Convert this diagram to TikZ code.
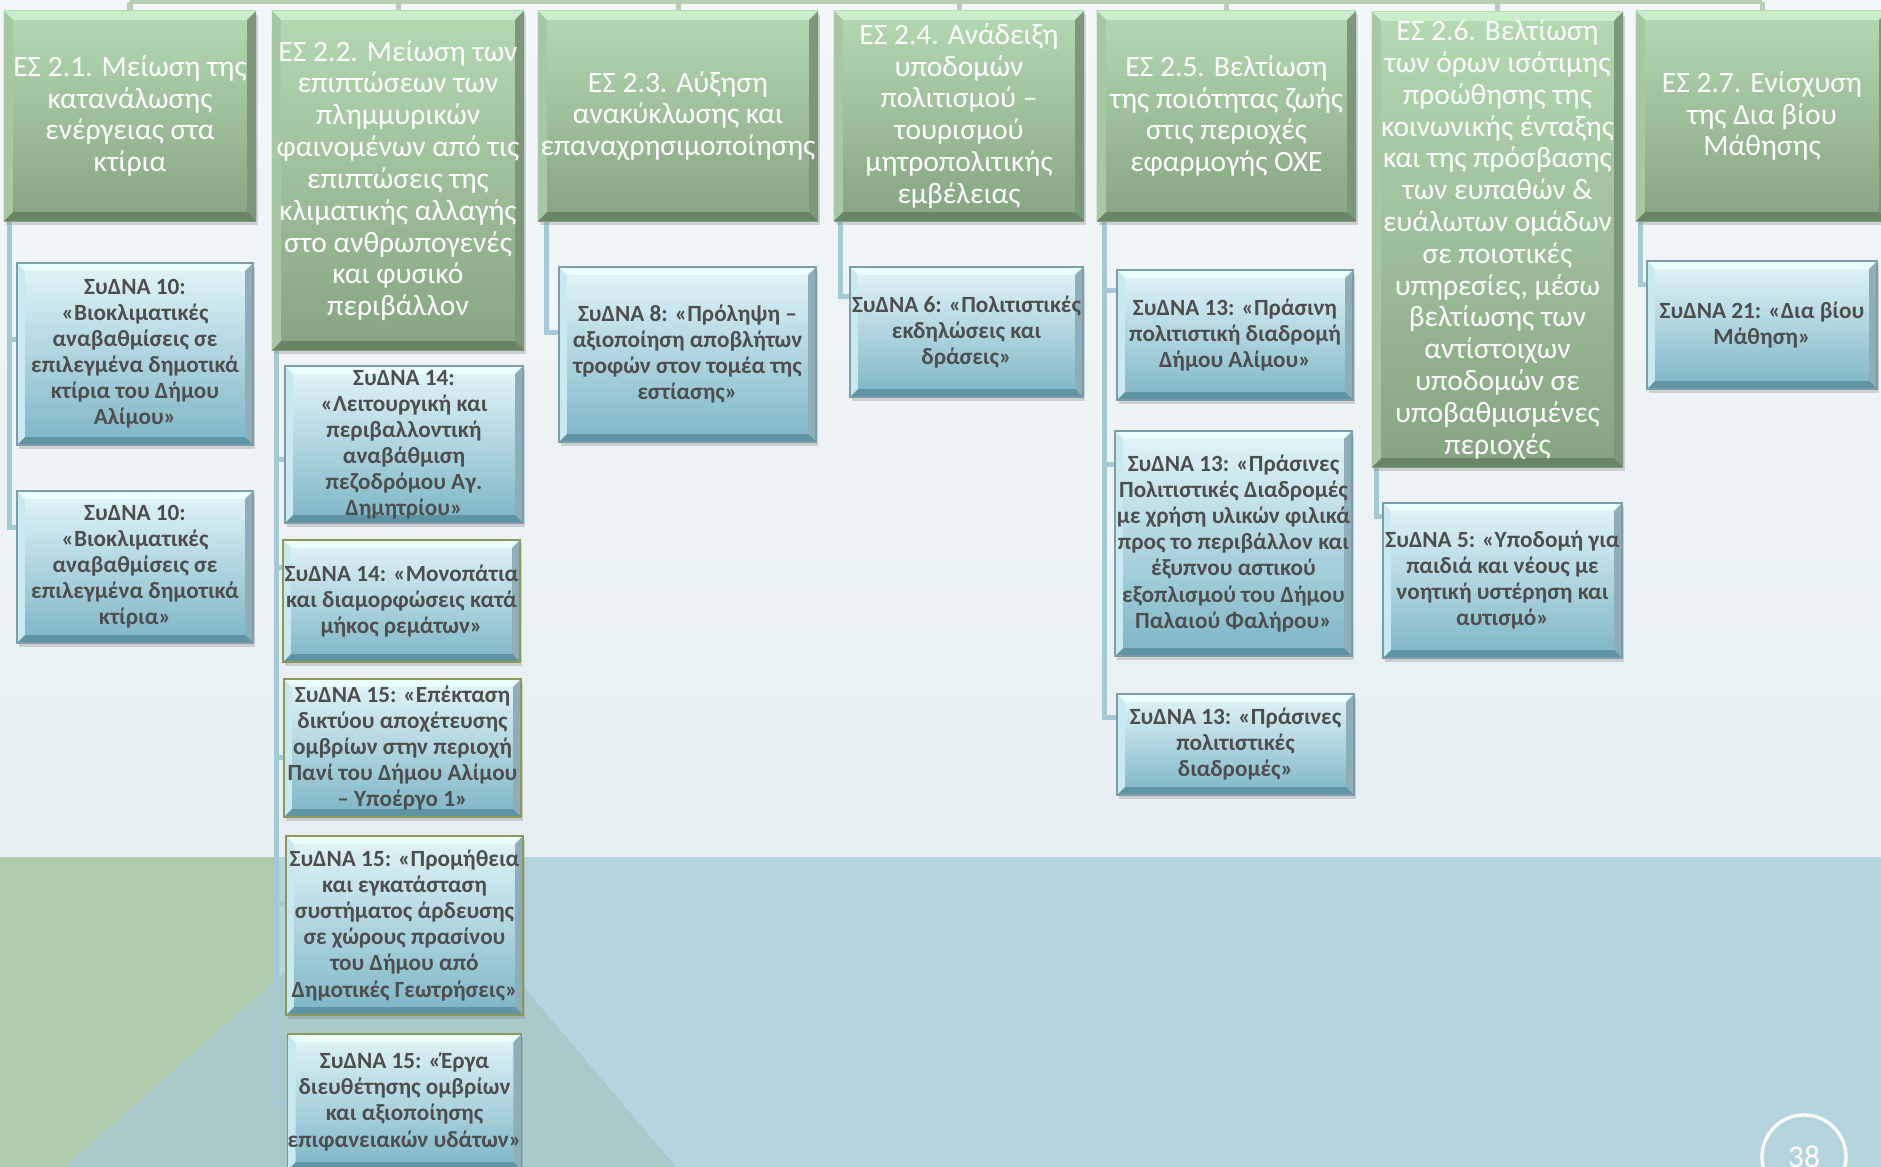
\documentclass[tikz,border=0pt]{standalone}
\usepackage{fontspec}
\setmainfont{Carlito}
\usetikzlibrary{shadows}

\pgfdeclarelayer{bg}
\pgfdeclarelayer{links}
\pgfsetlayers{bg,links,main}

\definecolor{bgTop}{HTML}{F4F7F9}
\definecolor{bgBot}{HTML}{E7EFF3}
\definecolor{bandBlue}{HTML}{B4D5DD}
\definecolor{bandTeal}{HTML}{A8CACB}
\definecolor{bandGreen}{HTML}{AECBAB}
\definecolor{esTop}{HTML}{B4DAB2}
\definecolor{esBot}{HTML}{86A481}
\definecolor{esHi}{HTML}{C9EEC9}
\definecolor{esRight}{HTML}{7C977A}
\definecolor{esDark}{HTML}{6A8466}
\definecolor{esLeft}{HTML}{A6C9A3}
\definecolor{syTop}{HTML}{E2F6F9}
\definecolor{syBot}{HTML}{7DB5C6}
\definecolor{syHi}{HTML}{ECFFFF}
\definecolor{syRight}{HTML}{8EAEB9}
\definecolor{syDark}{HTML}{5E94A3}
\definecolor{syLeft}{HTML}{C9E9F0}
\definecolor{syEdge}{HTML}{7F9DA8}
\definecolor{syEdgeO}{HTML}{8D9A55}
\definecolor{syText}{HTML}{4E4E4E}
\definecolor{linkBlue}{HTML}{A4CAD6}
\definecolor{linkGreen}{HTML}{B7CEB3}

\newcommand\boxbevel[5]{%
  \fill[#1] (path picture bounding box.north west) -- (path picture bounding box.north east)
    -- ([xshift=-#5,yshift=-#5]path picture bounding box.north east) -- ([xshift=#5,yshift=-#5]path picture bounding box.north west) -- cycle;
  \fill[#2] (path picture bounding box.north east) -- (path picture bounding box.south east)
    -- ([xshift=-#5,yshift=#5]path picture bounding box.south east) -- ([xshift=-#5,yshift=-#5]path picture bounding box.north east) -- cycle;
  \fill[#3] (path picture bounding box.south east) -- (path picture bounding box.south west)
    -- ([xshift=#5,yshift=#5]path picture bounding box.south west) -- ([xshift=-#5,yshift=#5]path picture bounding box.south east) -- cycle;
  \fill[#4] (path picture bounding box.south west) -- (path picture bounding box.north west)
    -- ([xshift=#5,yshift=-#5]path picture bounding box.north west) -- ([xshift=#5,yshift=#5]path picture bounding box.south west) -- cycle;}

\tikzset{
  wh/.style 2 args={minimum width=#1*0.1mm, minimum height=#2*0.1mm},
  esbox/.style={rectangle, inner sep=0pt, outer sep=0pt, align=center,
    top color=esTop, bottom color=esBot, text=white,
    font=\fontsize{8.4}{9.05}\selectfont,
    drop shadow={shadow xshift=0.02cm, shadow yshift=-0.04cm, opacity=0.3},
    path picture={\boxbevel{esHi}{esRight}{esDark}{esLeft}{0.09cm}}},
  sybox/.style={rectangle, inner sep=0pt, outer sep=0pt, align=center,
    draw=syEdge, line width=0.4pt,
    top color=syTop, bottom color=syBot, text=syText,
    font=\fontsize{6.6}{7.4}\selectfont\bfseries,
    drop shadow={shadow xshift=0.02cm, shadow yshift=-0.04cm, opacity=0.3},
    path picture={\boxbevel{syHi}{syRight}{syDark}{syLeft}{0.08cm}}},
  olivebox/.style={sybox, draw=syEdgeO},
  sublink/.style={draw=linkBlue, line width=0.05cm},
  toplink/.style={draw=linkGreen, line width=0.05cm},
}

\begin{document}
\begin{tikzpicture}[x=0.01cm, y=-0.01cm]

  \useasboundingbox (0,0) rectangle (1881,1167);
  \clip (0,0) rectangle (1881,1167);

  \begin{pgfonlayer}{bg}
  \shade[top color=bgTop, bottom color=bgBot] (0,0) rectangle (1881,857);
  \fill[bandBlue] (0,857) rectangle (1881,1167);
  \fill[bandTeal] (414,857) -- (676,1167) -- (65,1167) -- cycle;
  \fill[bandGreen] (0,857) -- (279,857) -- (279,977) -- (65,1167) -- (0,1167) -- cycle;
  \end{pgfonlayer}

  \node[esbox, wh={252}{210}] (es1) at (130,116) {ΕΣ 2.1. Μείωση της\\κατανάλωσης\\ενέργειας στα\\κτίρια};
  \node[esbox, wh={252}{339}] (es2) at (398,180.5) {ΕΣ 2.2. Μείωση των\\επιπτώσεων των\\πλημμυρικών\\φαινομένων από τις\\επιπτώσεις της\\κλιματικής αλλαγής\\στο ανθρωπογενές\\και φυσικό\\περιβάλλον};
  \node[esbox, wh={280}{210}] (es3) at (678,116) {ΕΣ 2.3. Αύξηση\\ανακύκλωσης και\\επαναχρησιμοποίησης};
  \node[esbox, wh={250}{210}] (es4) at (959,116) {ΕΣ 2.4. Ανάδειξη\\υποδομών\\πολιτισμού –\\τουρισμού\\μητροπολιτικής\\εμβέλειας};
  \node[esbox, wh={259}{210}] (es5) at (1226.5,116) {ΕΣ 2.5. Βελτίωση\\της ποιότητας ζωής\\στις περιοχές\\εφαρμογής ΟΧΕ};
  \node[esbox, wh={251}{455}] (es6) at (1497.5,239.5) {ΕΣ 2.6. Βελτίωση\\των όρων ισότιμης\\προώθησης της\\κοινωνικής ένταξης\\και της πρόσβασης\\των ευπαθών \&\\ευάλωτων ομάδων\\σε ποιοτικές\\υπηρεσίες, μέσω\\βελτίωσης των\\αντίστοιχων\\υποδομών σε\\υποβαθμισμένες\\περιοχές};
  \node[esbox, wh={252}{210}] (es7) at (1762,116) {ΕΣ 2.7. Ενίσχυση\\της Δια βίου\\Μάθησης};

  \node[sybox, wh={236}{182}] (sy1a) at (135,354) {ΣυΔΝΑ 10:\\«Βιοκλιματικές\\αναβαθμίσεις σε\\επιλεγμένα δημοτικά\\κτίρια του Δήμου\\Αλίμου»};
  \node[sybox, wh={236}{152}] (sy1b) at (135,567) {ΣυΔΝΑ 10:\\«Βιοκλιματικές\\αναβαθμίσεις σε\\επιλεγμένα δημοτικά\\κτίρια»};

  \node[sybox, wh={238}{157}] (sy2a) at (404,444.5) {ΣυΔΝΑ 14:\\«Λειτουργική και\\περιβαλλοντική\\αναβάθμιση\\πεζοδρόμου Αγ.\\Δημητρίου»};
  \node[olivebox, wh={237}{122}] (sy2b) at (401.5,601) {ΣυΔΝΑ 14: «Μονοπάτια\\και διαμορφώσεις κατά\\μήκος ρεμάτων»};
  \node[olivebox, wh={237}{138}] (sy2c) at (402.5,748) {ΣυΔΝΑ 15: «Επέκταση\\δικτύου αποχέτευσης\\ομβρίων στην περιοχή\\Πανί του Δήμου Αλίμου\\– Υποέργο 1»};
  \node[olivebox, wh={237}{179}] (sy2d) at (404.5,925.5) {ΣυΔΝΑ 15: «Προμήθεια\\και εγκατάσταση\\συστήματος άρδευσης\\σε χώρους πρασίνου\\του Δήμου από\\Δημοτικές Γεωτρήσεις»};
  \node[olivebox, wh={233}{136}] (sy2e) at (404.5,1102) {ΣυΔΝΑ 15: «Έργα\\διευθέτησης ομβρίων\\και αξιοποίησης\\επιφανειακών υδάτων»};

  \node[sybox, wh={257}{175}] (sy3a) at (687.5,354.5) {ΣυΔΝΑ 8: «Πρόληψη –\\αξιοποίηση αποβλήτων\\τροφών στον τομέα της\\εστίασης»};
  \node[sybox, wh={233}{130}] (sy4a) at (966.5,332) {ΣυΔΝΑ 6: «Πολιτιστικές\\εκδηλώσεις και\\δράσεις»};

  \node[sybox, wh={236}{130}] (sy5a) at (1235,335) {ΣυΔΝΑ 13: «Πράσινη\\πολιτιστική διαδρομή\\Δήμου Αλίμου»};
  \node[sybox, wh={237}{225}] (sy5b) at (1233.5,543.5) {ΣυΔΝΑ 13: «Πράσινες\\Πολιτιστικές Διαδρομές\\με χρήση υλικών φιλικά\\προς το περιβάλλον και\\έξυπνου αστικού\\εξοπλισμού του Δήμου\\Παλαιού Φαλήρου»};
  \node[sybox, wh={237}{101}] (sy5c) at (1235.5,744.5) {ΣυΔΝΑ 13: «Πράσινες\\πολιτιστικές\\διαδρομές»};

  \node[sybox, wh={239}{155}] (sy6a) at (1502.5,580.5) {ΣυΔΝΑ 5: «Υποδομή για\\παιδιά και νέους με\\νοητική υστέρηση και\\αυτισμό»};
  \node[sybox, wh={230}{128}] (sy7a) at (1762,325) {ΣυΔΝΑ 21: «Δια βίου\\Μάθηση»};

  \begin{pgfonlayer}{links}
  \coordinate (bar) at (0,2);
  \draw[toplink] (es1.north |- bar) -- (es7.north |- bar);
  \foreach \n in {es1,es2,es3,es4,es5,es6,es7}
    \draw[toplink] (\n.north |- bar) -- (\n.north);

  \draw[sublink] ([xshift=0.06cm]es1.south west) |- ([yshift=-0.77cm]sy1a.north west);
  \draw[sublink] ([xshift=0.06cm]es1.south west) |- ([yshift=-0.37cm]sy1b.north west);

  \draw[sublink] ([xshift=0.05cm]es2.south west) |- ([yshift=-0.93cm]sy2a.north west);
  \draw[sublink] ([xshift=0.05cm]es2.south west) |- ([yshift=-0.28cm]sy2b.north west);
  \draw[sublink] ([xshift=0.05cm]es2.south west) |- ([yshift=-0.78cm]sy2c.north west);
  \draw[sublink] ([xshift=0.05cm]es2.south west) |- ([yshift=-0.68cm]sy2d.north west);
  \draw[sublink] ([xshift=0.05cm]es2.south west) |- ([yshift=-0.68cm]sy2e.north west);

  \draw[sublink] ([xshift=0.09cm]es3.south west) |- ([yshift=-0.66cm]sy3a.north west);
  \draw[sublink] ([xshift=0.07cm]es4.south west) |- ([yshift=-0.30cm]sy4a.north west);

  \draw[sublink] ([xshift=0.08cm]es5.south west) |- ([yshift=-0.21cm]sy5a.north west);
  \draw[sublink] ([xshift=0.08cm]es5.south west) |- ([yshift=-0.34cm]sy5b.north west);
  \draw[sublink] ([xshift=0.08cm]es5.south west) |- ([yshift=-0.24cm]sy5c.north west);

  \draw[sublink] ([xshift=0.05cm]es6.south west) |- ([yshift=-0.14cm]sy6a.north west);
  \draw[sublink] ([xshift=0.05cm]es7.south west) |- ([yshift=-0.24cm]sy7a.north west);
  \end{pgfonlayer}

  \node[circle, draw=white, line width=0.033cm, minimum size=0.84cm, inner sep=0pt, text=white,
    font=\fontsize{9}{9}\selectfont] (page) at (1804,1157) {38};

\end{tikzpicture}
\end{document}
